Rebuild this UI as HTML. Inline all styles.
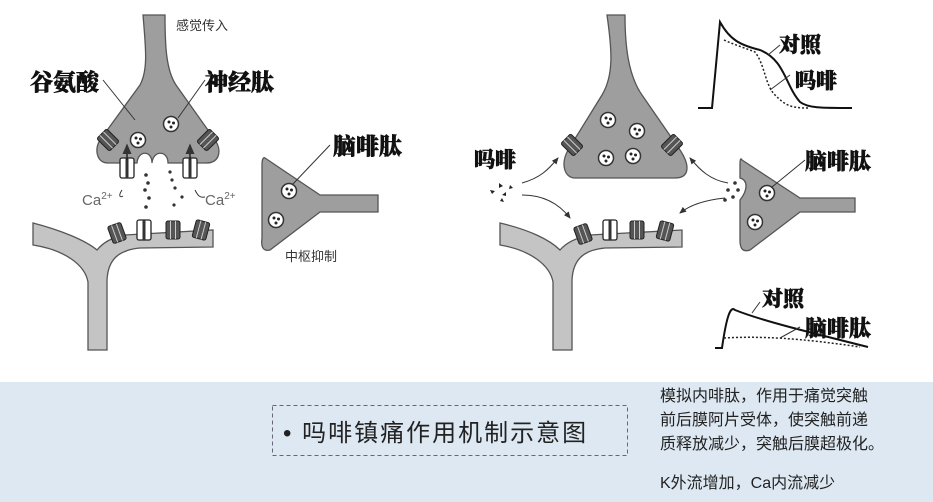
<!DOCTYPE html>
<html><head><meta charset="utf-8"><style>
html,body{margin:0;padding:0;background:#fff;width:933px;height:502px;overflow:hidden}
svg{position:absolute;left:0;top:0}
.b{font-family:"Liberation Serif","Noto Serif CJK SC",serif;font-weight:900;fill:#111;stroke:#111;stroke-width:0.6}
.s{font-family:"Liberation Sans","Noto Sans CJK SC",sans-serif;fill:#333}
</style></head><body>
<svg width="933" height="502" viewBox="0 0 933 502">
<defs>
<g id="ves"><circle r="7.5" fill="#fff" stroke="#333" stroke-width="1.5"/><circle cx="-2" cy="-2" r="1.5" fill="#222"/><circle cx="2.5" cy="-1" r="1.5" fill="#222"/><circle cx="0" cy="3" r="1.5" fill="#222"/></g>
<g id="rec"><rect x="-7" y="-9" width="14" height="18" rx="2" fill="#555" stroke="#222"/><line x1="-2.5" y1="-9" x2="-2.5" y2="9" stroke="#ccc"/><line x1="2.5" y1="-9" x2="2.5" y2="9" stroke="#ccc"/></g>
<g id="ch"><rect x="-7" y="-10" width="14" height="20" rx="2" fill="#fff" stroke="#222" stroke-width="1.3"/><rect x="-1.5" y="-10" width="3" height="20" fill="#333"/></g>
<marker id="ar" markerWidth="8" markerHeight="8" refX="6" refY="4" orient="auto"><path d="M0,1 L7,4 L0,7z" fill="#333"/></marker>
</defs>
<rect x="0" y="382" width="933" height="120" fill="#dde8f2"/>
<rect x="272.5" y="405.5" width="355" height="50" fill="none" stroke="#667" stroke-dasharray="4,3"/>
<text x="283" y="441" class="s" font-size="24" letter-spacing="2" style="fill:#222">• 吗啡镇痛作用机制示意图</text>
<g class="s" font-size="16" style="fill:#222">
<text x="660" y="401">模拟内啡肽，作用于痛觉突触</text>
<text x="660" y="425">前后膜阿片受体，使突触前递</text>
<text x="660" y="449">质释放减少，突触后膜超极化。</text>
<text x="660" y="488">K外流增加，Ca内流减少</text>
</g>

<!-- LEFT -->
<path d="M143,15 C146,50 148,70 140,85 L100,140 C94,150 97,163 108,163 L137,163 C138,150 152,150 152,163 C153,150 168,150 168,163 L206,163 C220,163 222,150 215,140 L176,85 C166,70 165,45 165,15 Z" fill="#9e9e9e" stroke="#555" stroke-width="1.3"/>
<path d="M33,223 C60,230 85,240 97,250 C103,243 110,238 125,235 L213,230 L213,247 L140,248 C118,250 108,260 107,280 L107,350 L88,350 L88,282 C85,265 65,250 33,245 Z" fill="#c4c4c4" stroke="#555" stroke-width="1.3"/>
<path d="M265,158 L320,195 L378,195 L378,212 L320,212 L270,250 C262,252 261,245 262,238 L262,165 C262,158 264,157 265,158 Z" fill="#9e9e9e" stroke="#555" stroke-width="1.3"/>
<use href="#ves" x="171" y="124"/><use href="#ves" x="138" y="140"/>
<use href="#ves" x="289" y="191"/><use href="#ves" x="276" y="220"/>
<use href="#rec" transform="translate(108,140) rotate(-45)"/><use href="#rec" transform="translate(208,140) rotate(45)"/>
<use href="#ch" x="127" y="168"/><use href="#ch" x="190" y="168"/>
<line x1="127" y1="160" x2="127" y2="145" stroke="#222" stroke-width="1.5" marker-end="url(#ar)"/>
<line x1="190" y1="160" x2="190" y2="145" stroke="#222" stroke-width="1.5" marker-end="url(#ar)"/>
<use href="#rec" transform="translate(117,233) rotate(-20)"/><use href="#ch" x="144" y="230"/><use href="#rec" x="173" y="230"/><use href="#rec" transform="translate(201,230) rotate(15)"/>
<g fill="#333"><circle cx="146" cy="175" r="1.8"/><circle cx="148" cy="183" r="1.8"/><circle cx="145" cy="190" r="1.8"/><circle cx="149" cy="198" r="1.8"/><circle cx="146" cy="207" r="1.8"/><circle cx="170" cy="172" r="1.6"/><circle cx="172" cy="180" r="1.6"/><circle cx="175" cy="188" r="1.6"/><circle cx="182" cy="197" r="1.6"/><circle cx="174" cy="205" r="1.6"/></g>
<g stroke="#333" stroke-width="1" fill="none"><path d="M103,80 L135,120"/><path d="M205,80 L178,118"/><path d="M330,145 L292,185"/><path d="M122,190 C118,196 120,198 123,196"/><path d="M195,190 C198,196 200,198 205,197"/></g>
<text x="30" y="90" class="b" font-size="23">谷氨酸</text>
<text x="205" y="90" class="b" font-size="23">神经肽</text>
<text x="333" y="154" class="b" font-size="23">脑啡肽</text>
<text x="176" y="30" class="s" font-size="13">感觉传入</text>
<text x="285" y="261" class="s" font-size="13">中枢抑制</text>
<text x="82" y="205" class="s" font-size="15" style="fill:#666">Ca<tspan font-size="10" dy="-6">2+</tspan></text>
<text x="205" y="205" class="s" font-size="15" style="fill:#666">Ca<tspan font-size="10" dy="-6">2+</tspan></text>

<!-- RIGHT -->
<path d="M607,15 C612,50 614,75 602,95 L568,150 C560,165 565,178 575,178 L675,178 C690,178 690,165 680,150 L642,95 C628,75 625,45 625,15 Z" fill="#9e9e9e" stroke="#555" stroke-width="1.3"/>
<path d="M500,223 C530,230 550,240 560,250 C566,243 575,238 590,235 L682,230 L682,247 L605,248 C583,250 573,260 572,280 L572,350 L553,350 L553,282 C550,265 530,250 500,245 Z" fill="#c4c4c4" stroke="#555" stroke-width="1.3"/>
<path d="M742,160 L800,198 L855,198 L855,212 L800,212 L750,250 C741,253 740,246 740,240 L740,200 C748,190 748,180 740,178 L740,165 C740,158 741,158 742,160 Z" fill="#9e9e9e" stroke="#555" stroke-width="1.3"/>
<use href="#ves" x="608" y="120"/><use href="#ves" x="637" y="131"/><use href="#ves" x="606" y="158"/><use href="#ves" x="633" y="156"/>
<use href="#ves" x="767" y="193"/><use href="#ves" x="755" y="222"/>
<use href="#rec" transform="translate(572,145) rotate(-45)"/><use href="#rec" transform="translate(672,145) rotate(45)"/>
<use href="#rec" transform="translate(583,234) rotate(-20)"/><use href="#ch" x="610" y="230"/><use href="#rec" x="637" y="230"/><use href="#rec" transform="translate(665,231) rotate(15)"/>
<g fill="#333"><circle cx="735" cy="183" r="1.8"/><circle cx="738" cy="190" r="1.8"/><circle cx="728" cy="190" r="1.8"/><circle cx="733" cy="197" r="1.8"/><circle cx="725" cy="200" r="1.8"/></g>
<g fill="#222"><path d="M499,183 l4,3 l-4,2z"/><path d="M490,190 l5,1 l-3,3z"/><path d="M506,192 l-4,3 l4,1z"/><path d="M502,198 l2,4 l-4,-1z"/><path d="M510,185 l3,3 l-4,1z"/></g>
<g stroke="#333" stroke-width="1" fill="none">
<path d="M522,183 C540,178 548,170 558,158" marker-end="url(#ar)"/>
<path d="M522,195 C545,195 560,205 570,218" marker-end="url(#ar)"/>
<path d="M728,183 C710,180 700,170 690,158" marker-end="url(#ar)"/>
<path d="M725,198 C705,200 690,205 680,213" marker-end="url(#ar)"/>
<path d="M805,160 L772,187"/>
</g>
<text x="474" y="167" class="b" font-size="21">吗啡</text>
<text x="805" y="169" class="b" font-size="22">脑啡肽</text>
<path d="M698,108 L712,108 L720,22 C730,40 740,45 760,50 C785,60 785,85 800,102 C808,108 820,108 852,108" fill="none" stroke="#111" stroke-width="2"/>
<path d="M724,40 C735,45 745,48 755,52 C765,65 765,85 775,95 C785,105 790,108 808,108" fill="none" stroke="#222" stroke-width="1.5" stroke-dasharray="2,2"/>
<path d="M768,55 L780,45" stroke="#333" fill="none"/><path d="M770,90 L790,75" stroke="#333" fill="none"/>
<text x="779" y="52" class="b" font-size="21">对照</text>
<text x="795" y="88" class="b" font-size="21">吗啡</text>
<path d="M715,348 L722,348 C726,320 730,305 735,310 C760,320 800,330 868,347" fill="none" stroke="#111" stroke-width="2"/>
<path d="M724,338 C760,336 800,338 860,347" fill="none" stroke="#222" stroke-width="1.5" stroke-dasharray="2,2"/>
<path d="M752,313 L760,302" stroke="#333" fill="none"/><path d="M780,338 L800,327" stroke="#333" fill="none"/>
<text x="762" y="306" class="b" font-size="21">对照</text>
<text x="805" y="336" class="b" font-size="22">脑啡肽</text>
</svg>
</body></html>
